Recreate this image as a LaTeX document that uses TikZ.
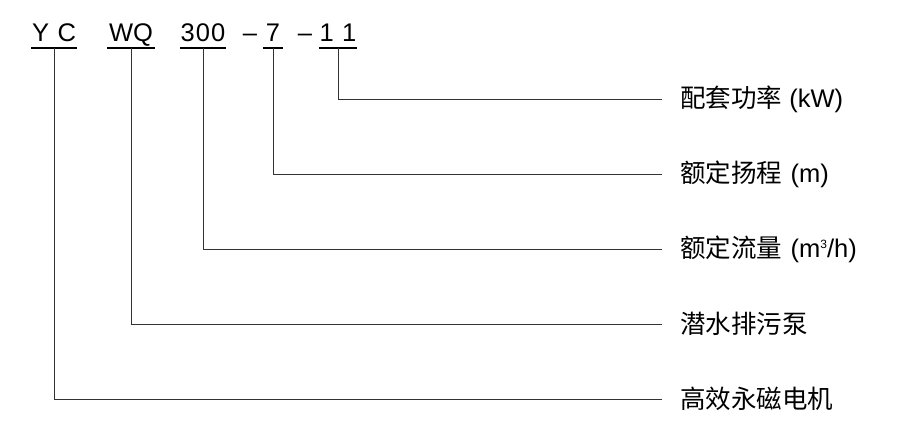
\documentclass[tikz,border=0pt]{standalone}
\usepackage{fontspec}
\setmainfont{Liberation Sans}
\newfontfamily\cjk{Noto Sans CJK SC}
\usetikzlibrary{positioning}

\begin{document}
\begin{tikzpicture}[x=1pt,y=-1pt,
    code/.style={anchor=south,inner sep=0pt,text height=18pt,text depth=6pt,
      font=\fontsize{25.5}{28}\selectfont},
    sep/.style={anchor=base,inner sep=0pt,font=\fontsize{25.5}{28}\selectfont},
    lab/.style={anchor=west,inner xsep=18pt,inner ysep=0pt,
      font=\fontsize{25.5}{28}\selectfont},
    uline/.style={line width=1.5pt},
    lead/.style={line width=0.8pt,black!80}]

    \useasboundingbox (0,0) rectangle (911,438);

    % model code
    \node[code,minimum width=45pt] (yc)  at (54,48)  {Y\,\,C};
    \node[code,minimum width=47pt] (wq)  at (131,48) {WQ};
    \node[code,minimum width=46pt] (q)   at (203,48) {3\kern1pt0\kern1pt0};
    \node[code,minimum width=20pt] (h)   at (273,48) {7};
    \node[code,minimum width=38pt] (p)   at (338,48) {1\,\,1};
    \node[sep] (d1) at (250,42) {–};
    \node[sep] (d2) at (305,42) {–};

    \foreach \n in {yc,wq,q,h,p}
        \draw[uline] (\n.south west) -- (\n.south east);

    % meanings
    \node[lab] (kw) at (662,99) {{\cjk 配套功率} (kW)};
    \node[lab] (hd) at ([yshift=-75pt]kw.west) {{\cjk 额定扬程}\,\,(m)};
    \node[lab] (fl) at ([yshift=-75pt]hd.west)
        {{\cjk 额定流量}\,\,(m\raisebox{9pt}{\fontsize{12}{12}\selectfont 3}/h)};
    \node[lab] (pm) at ([yshift=-75pt]fl.west) {\cjk 潜水排污泵};
    \node[lab] (mo) at ([yshift=-75pt]pm.west) {\cjk 高效永磁电机};

    \draw[lead] (p.south)  |- (kw.west);
    \draw[lead] (h.south)  |- (hd.west);
    \draw[lead] (q.south)  |- (fl.west);
    \draw[lead] (wq.south) |- (pm.west);
    \draw[lead] (yc.south) |- (mo.west);
\end{tikzpicture}
\end{document}
